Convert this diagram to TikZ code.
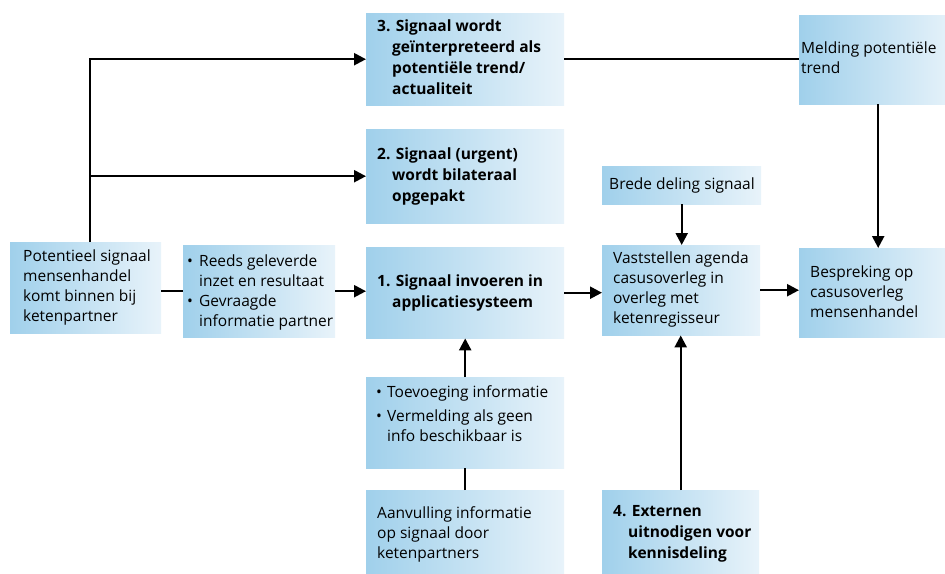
\documentclass[tikz,border=0pt]{standalone}
\usepackage{fontspec}
\setmainfont{Open Sans}
\usetikzlibrary{arrows.meta,calc}
\definecolor{bl}{RGB}{160,208,235}
\definecolor{bw}{RGB}{232,243,250}
% #1 width, #2 height, #3 top offset, #4 left margin, #5 text
\newcommand\bt[5]{\parbox[c][#2pt][t]{#1pt}{\fontsize{15.5}{20}\selectfont\parindent=0pt\leftskip=#4pt\relax\rightskip=0pt plus 1fil\vspace*{#3pt}\strut #5\par}}
\newcommand\bul[1]{\hangindent=#1pt\hangafter=1\makebox[#1pt][l]{•}}
\tikzset{
  box/.style={inner sep=0pt, anchor=north west, left color=bl, right color=bw},
  ln/.style={line width=2.3pt},
  arr/.style={line width=2.3pt, -{Triangle[length=12pt,width=12pt]}}
}
\begin{document}
\begin{tikzpicture}[x=1pt,y=-1pt]
\useasboundingbox (0,0) rectangle (945,573);
\clip (0,0) rectangle (945,573);
% boxes
\node[box] (p) at (10,242) {\bt{151}{91}{5}{13}{Potentieel signaal\newline mensenhandel\newline komt binnen bij\newline ketenpartner}};
\node[box] (r) at (183,245) {\bt{152}{92}{7}{4}{\bul{12}Reeds geleverde\newline inzet en resultaat\par\bul{12}Gevraagde\newline informatie partner}};
\node[box] (b3) at (366,13) {\bt{198}{92}{4}{11}{\bfseries\baselineskip=21pt\hangindent=15pt\hangafter=1 3. Signaal wordt\newline geïnterpreteerd als\newline potentiële trend/\newline actualiteit}};
\node[box] (b2) at (366,129) {\bt{198}{94}{16}{11}{\bfseries\baselineskip=21pt\hangindent=15pt\hangafter=1 2. Signaal (urgent)\newline wordt bilateraal\newline opgepakt}};
\node[box] (b1) at (366,247) {\bt{198}{91}{25}{11}{\bfseries\baselineskip=21pt\hangindent=15pt\hangafter=1 1. Signaal invoeren in\newline applicatiesysteem}};
\node[box] (t) at (366,377) {\bt{198}{91}{6}{10}{\bul{11}Toevoeging informatie\par\vspace{4pt}\bul{11}Vermelding als geen\newline info beschikbaar is}};
\node[box] (a) at (366,490) {\bt{198}{100}{14}{11}{Aanvulling informatie\newline op signaal door\newline ketenpartners}};
\node[box] (d) at (602,166) {\bt{159}{38}{9}{7}{Brede deling signaal}};
\node[box] (v) at (602,245) {\bt{158}{90}{4}{11}{Vaststellen agenda\newline casusoverleg in\newline overleg met\newline ketenregisseur}};
\node[box] (e) at (602,490) {\bt{157}{100}{12}{11}{\bfseries\baselineskip=21pt\hangindent=15pt\hangafter=1 4. Externen\newline uitnodigen voor\newline kennisdeling}};
\node[box] (m) at (799,15) {\bt{158}{89}{24}{2}{Melding potentiële\newline trend}};
\node[box] (bs) at (799,248) {\bt{158}{89}{15}{11}{Bespreking op\newline casusoverleg\newline mensenhandel}};
% connectors
\coordinate (pn) at ([xshift=4.5pt]p.north);
\draw[arr] (pn) |- (b3.west);
\draw[arr] (pn |- b2.west) -- (b2.west);
\draw[ln] (r.west -| p.east) -- (r.west);
\draw[arr] (r.east) -- (r.east -| b1.west);
\draw[arr] (b1.east) -- (b1.east -| v.west);
\draw[arr] (v.east) -- (v.east -| bs.west);
\draw[ln] (b3.east) -- (b3.east -| m.west);
\draw[arr] (m.south) -- (m.south |- bs.north);
\draw[arr] (d.south) -- (d.south |- v.north);
\draw[arr] (t.north) -- (t.north |- b1.south);
\draw[ln] (a.north) -- (a.north |- t.south);
\draw[arr] (e.north) -- (e.north |- v.south);
\end{tikzpicture}
\end{document}
